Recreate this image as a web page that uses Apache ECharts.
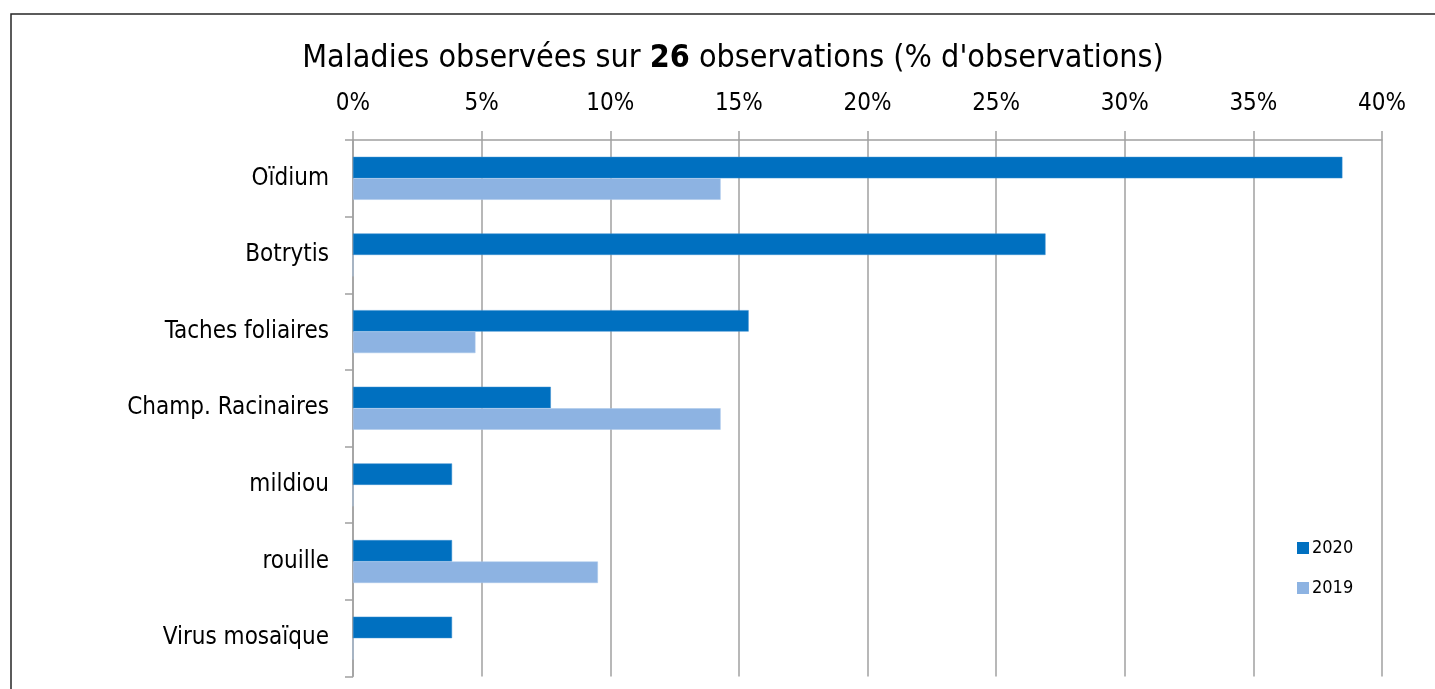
<!DOCTYPE html>
<html>
<head>
<meta charset="utf-8">
<script src="https://cdn.jsdelivr.net/npm/echarts@6/dist/echarts.min.js"></script>
<style>
html,body{margin:0;padding:0;background:#fff;}
#c{width:1435px;height:689px;}
</style>
</head>
<body>
<div id="c"></div>
<script>
const categories = ["Oïdium", "Botrytis", "Taches foliaires", "Champ. Racinaires", "mildiou", "rouille", "Virus mosaïque"];
const values2020 = [38.46, 26.92, 15.38, 7.69, 3.85, 3.85, 3.85];
const values2019 = [14.29, 0, 4.76, 14.29, 0, 9.52, 0];
const seriesNames = ["2020", "2019"];
const titleParts = ["Maladies observées sur ", "26", " observations (% d'observations)"];

const FONT = "'DejaVu Sans Condensed', 'DejaVu Sans', sans-serif";
const chart = echarts.init(document.getElementById('c'), null, {renderer: 'canvas'});
chart.setOption({
  animation: false,
  backgroundColor: '#fff',
  graphic: [{
    type: 'rect',
    shape: {x: 11, y: 14, width: 1460, height: 720},
    style: {fill: 'none', stroke: '#262626', lineWidth: 1.5},
    silent: true
  }],
  title: {
    text: '{n|' + titleParts[0] + '}{b|' + titleParts[1] + '}{n|' + titleParts[2] + '}',
    left: 728, textAlign: 'center', top: 38,
    textStyle: {
      fontWeight: 'normal', fontFamily: FONT, fontSize: 32, color: '#000',
      rich: {
        n: {fontFamily: FONT, fontSize: 32, fontWeight: 'normal', color: '#000'},
        b: {fontFamily: FONT, fontSize: 32, fontWeight: 'bold', color: '#000'}
      }
    }
  },
  legend: {
    orient: 'vertical',
    left: 1292, top: 534,
    itemWidth: 12, itemHeight: 12, itemGap: 22,
    icon: 'rect',
    itemStyle: {borderWidth: 0},
    textStyle: {fontFamily: FONT, fontSize: 18, color: '#000', padding: [0, 0, 0, -2]},
    data: seriesNames
  },
  grid: {left: 353, right: 53, top: 140, bottom: 12.5, containLabel: false},
  xAxis: {
    type: 'value', position: 'top',
    min: 0, max: 40, interval: 5,
    axisLine: {show: true, lineStyle: {color: '#a0a0a0', width: 1.5}},
    axisTick: {show: true, length: 9, lineStyle: {color: '#a0a0a0', width: 1.5}},
    splitLine: {show: true, lineStyle: {color: '#a0a0a0', width: 1.5}},
    axisLabel: {formatter: '{value}%', fontFamily: FONT, fontSize: 24, color: '#000', margin: 24}
  },
  yAxis: {
    type: 'category', inverse: true, data: categories,
    axisLine: {show: true, lineStyle: {color: '#a0a0a0', width: 1.5}},
    axisTick: {show: true, length: 8, lineStyle: {color: '#a0a0a0', width: 1.5}},
    axisLabel: {fontFamily: FONT, fontSize: 24, color: '#000', margin: 24}
  },
  series: [
    {name: seriesNames[0], type: 'bar', data: values2020, barGap: '0%', barCategoryGap: '44%',
     itemStyle: {color: '#0070C0', borderColor: '#3a8fd0', borderWidth: 0.5}},
    {name: seriesNames[1], type: 'bar', data: values2019, barGap: '0%', barCategoryGap: '44%',
     itemStyle: {color: '#8DB3E2', borderColor: '#a8c6ea', borderWidth: 0.5}}
  ]
});
</script>
</body>
</html>
